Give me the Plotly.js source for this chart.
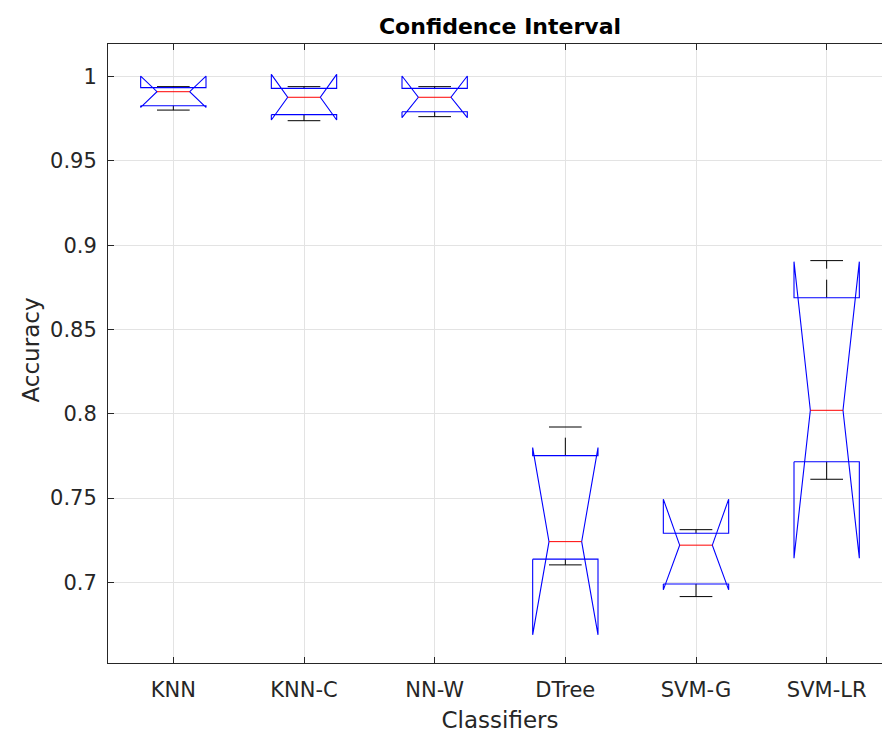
<!DOCTYPE html>
<html>
<head>
<meta charset="utf-8">
<script src="https://cdn.plot.ly/plotly-3.0.1.min.js"></script>
<style>
  html, body { margin: 0; padding: 0; background: #fff; overflow: hidden; }
  #chart { width: 892px; height: 735px; }
</style>
</head>
<body>
<div id="chart"></div>
<script>
// ---- data ----
const categories  = ['KNN', 'KNN-C', 'NN-W', 'DTree', 'SVM-G', 'SVM-LR'];
const q1          = [0.9828, 0.9775, 0.9792, 0.7138, 0.6991, 0.7716];
const medians     = [0.9911, 0.9878, 0.9878, 0.7242, 0.7221, 0.8021];
const q3          = [0.9935, 0.9931, 0.9931, 0.7752, 0.7292, 0.8689];
const notchLow    = [0.9818, 0.9743, 0.9757, 0.6689, 0.6956, 0.7144];
const notchHigh   = [1.0004, 1.0014, 1.0004, 0.7800, 0.7494, 0.8903];
const whiskerLow  = [0.9802, 0.9739, 0.9763, 0.7104, 0.6916, 0.7612];
const whiskerHigh = [0.9941, 0.9941, 0.9941, 0.7922, 0.7313, 0.8909];
const yTickVals   = [0.7, 0.75, 0.8, 0.85, 0.9, 0.95, 1];
const yTickText   = ['0.7', '0.75', '0.8', '0.85', '0.9', '0.95', '1'];

// ---- geometry constants (style) ----
const BW = 0.25;   // box half-width
const NW = 0.125;  // notch half-width at median
const CW = 0.125;  // whisker cap half-width

const boxX = [], boxY = [], medX = [], medY = [], whX = [], whY = [], capX = [], capY = [];
categories.forEach((c, i) => {
  const x = i + 1;
  // notched box outline (MATLAB style)
  boxX.push(x - BW, x - BW, x - NW, x - BW, x - BW, x + BW, x + BW, x + NW, x + BW, x + BW, x - BW, null);
  boxY.push(q1[i], notchLow[i], medians[i], notchHigh[i], q3[i], q3[i], notchHigh[i], medians[i], notchLow[i], q1[i], q1[i], null);
  // median
  medX.push(x - NW, x + NW, null);
  medY.push(medians[i], medians[i], null);
  // whiskers (dashed)
  whX.push(x, x, null, x, x, null);
  whY.push(q3[i], whiskerHigh[i], null, q1[i], whiskerLow[i], null);
  // caps
  capX.push(x - CW, x + CW, null, x - CW, x + CW, null);
  capY.push(whiskerHigh[i], whiskerHigh[i], null, whiskerLow[i], whiskerLow[i], null);
});

const traces = [
  { x: whX, y: whY, mode: 'lines', line: { color: '#000000', width: 1, dash: '18px,11px' }, hoverinfo: 'skip', showlegend: false },
  { x: capX, y: capY, mode: 'lines', line: { color: '#000000', width: 1 }, hoverinfo: 'skip', showlegend: false },
  { x: boxX, y: boxY, mode: 'lines', line: { color: '#0000ff', width: 1.1 }, hoverinfo: 'skip', showlegend: false },
  { x: medX, y: medY, mode: 'lines', line: { color: '#ff0000', width: 1 }, hoverinfo: 'skip', showlegend: false }
];

const FONT = 'DejaVu Sans, Liberation Sans, Arial, sans-serif';
const layout = {
  width: 892, height: 735,
  margin: { l: 108, r: 0, t: 44, b: 72 },
  paper_bgcolor: '#ffffff', plot_bgcolor: '#ffffff',
  font: { family: FONT, color: '#262626' },
  title: {
    text: '<b>Confidence Interval</b>',
    font: { family: FONT, size: 22, color: '#000000' },
    x: 0.5, xref: 'paper', xanchor: 'center',
    y: 1 - 26 / 735, yref: 'container', yanchor: 'middle'
  },
  xaxis: {
    range: [0.5, 6.5],
    tickvals: categories.map((c, i) => i + 1),
    ticktext: categories,
    ticks: 'inside', ticklen: 6, tickcolor: '#262626', tickwidth: 1,
    showline: true, linecolor: '#262626', linewidth: 1, mirror: 'allticks',
    showgrid: true, gridcolor: '#e3e3e3', gridwidth: 1,
    zeroline: false,
    tickfont: { family: FONT, size: 21, color: '#262626' },
    ticklabelstandoff: 8,
    title: { text: 'Classifiers', font: { family: FONT, size: 23, color: '#262626' }, standoff: 10 }
  },
  yaxis: {
    range: [0.6522, 1.0194],
    tickvals: yTickVals,
    ticktext: yTickText,
    ticks: 'inside', ticklen: 6, tickcolor: '#262626', tickwidth: 1,
    showline: true, linecolor: '#262626', linewidth: 1, mirror: 'allticks',
    showgrid: true, gridcolor: '#e3e3e3', gridwidth: 1,
    zeroline: false,
    tickfont: { family: FONT, size: 21, color: '#262626' },
    ticklabelstandoff: 6
  },
  annotations: [{
    text: 'Accuracy', textangle: -90, showarrow: false,
    xref: 'paper', yref: 'paper', x: 0, y: 0.5,
    xanchor: 'center', yanchor: 'middle', xshift: -78, yshift: 3,
    font: { family: FONT, size: 23, color: '#262626' }
  }]
};

Plotly.newPlot('chart', traces, layout, { staticPlot: true, displayModeBar: false });
</script>
</body>
</html>
